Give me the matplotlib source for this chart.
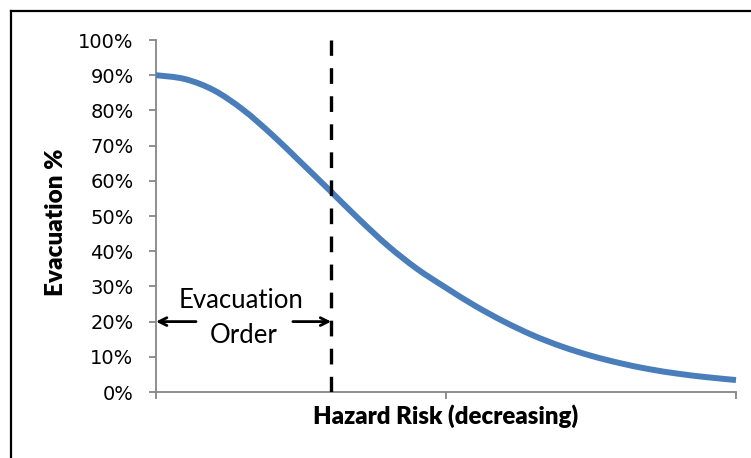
import numpy as np
import matplotlib.pyplot as plt
from matplotlib.lines import Line2D
from matplotlib.patches import PathPatch
from matplotlib.path import Path
from matplotlib.ticker import PercentFormatter

# valores
hazard_x = [0, 0.5, 1, 1.5, 2, 2.5, 3, 3.5, 4, 4.5, 5,
            5.5, 6, 6.5, 7, 7.5, 8, 8.5, 9, 9.5, 10]
evac_pct = [90.0, 88.9, 85.7, 80.2, 73.1, 65.2, 57.2, 49.1, 41.5, 35.0, 29.6,
            24.5, 20.0, 16.1, 12.9, 10.3, 8.2, 6.5, 5.2, 4.2, 3.4]
order_x = 3.02
arrow_y = 20
arrow_left = [0.0, 0.69]
arrow_right = [2.36, 3.02]


def smooth_path(x, y):
    # linha suavizada tipo Excel (Catmull-Rom -> Bezier)
    p = np.column_stack([x, y]).astype(float)
    ext = np.vstack([p[0], p, p[-1]])
    verts = [p[0]]
    codes = [Path.MOVETO]
    for i in range(1, len(ext) - 2):
        c1 = ext[i] + (ext[i + 1] - ext[i - 1]) / 6
        c2 = ext[i + 1] - (ext[i + 2] - ext[i]) / 6
        verts += [c1, c2, ext[i + 1]]
        codes += [Path.CURVE4] * 3
    return Path(verts, codes)


plt.rcParams['font.family'] = ['Lato', 'DejaVu Sans']
plt.rcParams['lines.scale_dashes'] = False

fig = plt.figure(figsize=(7.51, 4.58), dpi=100)
ax = fig.add_axes([156/751, 1-392/458, 580/751, 352/458])

# moldura externa (só esquerda e topo aparecem)
bx, by = 11/751, 1-11/458
fig.add_artist(Line2D([bx, bx], [0, by], transform=fig.transFigure,
                      color='black', linewidth=1.6, solid_capstyle='projecting'))
fig.add_artist(Line2D([bx, 1], [by, by], transform=fig.transFigure,
                      color='black', linewidth=1.6, solid_capstyle='projecting'))

curve = PathPatch(smooth_path(hazard_x, evac_pct), facecolor='none',
                  edgecolor='#4A7EBB', linewidth=4.3, capstyle='butt',
                  clip_on=False, zorder=3)
ax.add_patch(curve)

ax.axvline(order_x, color='black', linewidth=2.4, dashes=(11.3, 8.9), zorder=4)

# setas "Evacuation Order"
ax.annotate('', xy=(arrow_left[0], arrow_y), xytext=(arrow_left[1], arrow_y),
            arrowprops=dict(arrowstyle='->', color='black', lw=2.0,
                            shrinkA=0, shrinkB=0, mutation_scale=14))
ax.annotate('', xy=(arrow_right[1], arrow_y), xytext=(arrow_right[0], arrow_y),
            arrowprops=dict(arrowstyle='->', color='black', lw=2.0,
                            shrinkA=0, shrinkB=0, mutation_scale=14))
ax.text(1.47, 26.0, 'Evacuation', ha='center', va='center', fontsize=18.5)
ax.text(1.51, 16.0, 'Order', ha='center', va='center', fontsize=18.5)

ax.set_xlim(0, 10)
ax.set_ylim(0, 100)
ax.set_xticks([0, 5, 10])
ax.set_xticklabels([])
ax.set_yticks(np.arange(0, 101, 10))
ax.yaxis.set_major_formatter(PercentFormatter(decimals=0))

for s in ['top', 'right']:
    ax.spines[s].set_visible(False)
for s in ['left', 'bottom']:
    ax.spines[s].set_color('#868686')
    ax.spines[s].set_linewidth(1.3)
ax.tick_params(axis='both', direction='out', length=5.2, width=1.3, color='#868686',
               pad=11)
ax.tick_params(axis='y', labelsize=14, labelfontfamily='DejaVu Sans')

ax.set_ylabel('Evacuation %', fontsize=17.5, fontweight='heavy')
ax.set_xlabel('Hazard Risk (decreasing)', fontsize=17.3, fontweight='heavy')
ax.yaxis.set_label_coords(-0.153, 0.483)
ax.xaxis.set_label_coords(0.5, -0.035)

fig.savefig('out.png', dpi=100)
